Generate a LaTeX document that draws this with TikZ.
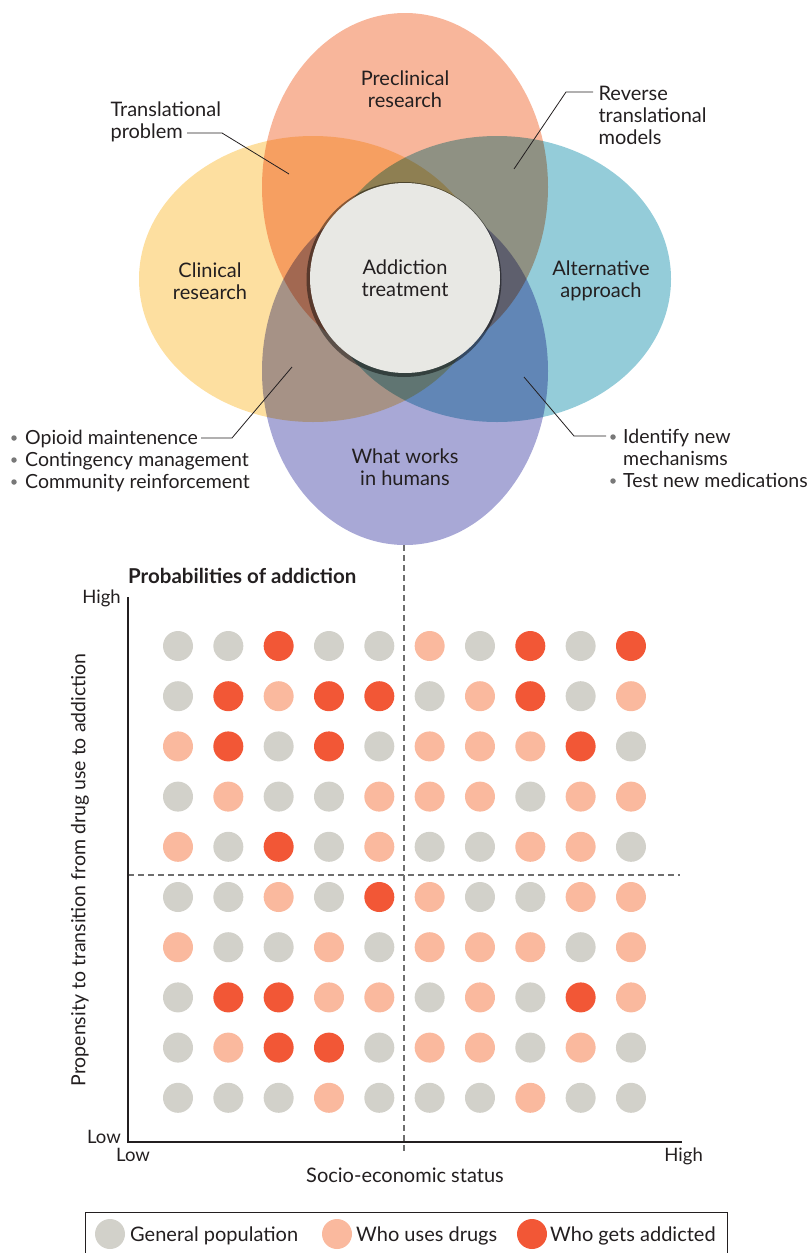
\documentclass[tikz,border=0pt]{standalone}
\usepackage{fontspec}
\setmainfont{Lato}
\usetikzlibrary{positioning}
\definecolor{preclin}{RGB}{248,182,155}
\definecolor{clinyel}{RGB}{253,223,160}
\definecolor{altblue}{RGB}{148,204,217}
\definecolor{humanvio}{RGB}{168,168,214}
\definecolor{coregray}{RGB}{232,232,228}
\definecolor{popgray}{RGB}{210,209,202}
\definecolor{drugpink}{RGB}{250,185,158}
\definecolor{addred}{RGB}{242,87,54}
\definecolor{inkblack}{RGB}{35,31,32}
\definecolor{dashgray}{RGB}{110,110,110}
\definecolor{bulletgray}{RGB}{120,120,120}

\tikzset{
  venntxt/.style={align=center,font=\fontsize{20}{22}\selectfont,text=inkblack},
  sidetxt/.style={anchor=base west,font=\fontsize{19.5}{22}\selectfont,text=inkblack,inner sep=0pt},
  leader/.style={draw=inkblack,line width=0.8pt},
  bullet/.style={circle,fill=bulletgray,inner sep=0pt,minimum size=5.5pt},
  dot/.style={circle,inner sep=0pt,minimum size=30pt},
  dotg/.style={fill=popgray},
  dotp/.style={fill=drugpink},
  dotr/.style={fill=addred},
  axistxt/.style={font=\fontsize{18.5}{20}\selectfont,text=inkblack,inner sep=0pt},
  legtxt/.style={sidetxt,font=\fontsize{20}{22}\selectfont},
  quadline/.style={dashed,dash pattern=on 6pt off 4pt,draw=dashgray,line width=1.2pt}
}

\begin{document}
\begin{tikzpicture}[x=1pt,y=-1pt]
  \useasboundingbox (0,0) rectangle (810,1253);

  % four overlapping fields
  \begin{scope}[blend group=multiply]
    \fill[preclin] (405,187) ellipse [x radius=143, y radius=174];
    \fill[clinyel] (313,279) ellipse [x radius=174, y radius=143];
    \fill[altblue] (497,279) ellipse [x radius=174, y radius=143];
    \fill[humanvio] (405,371) ellipse [x radius=143, y radius=174];
  \end{scope}
  \fill[black,opacity=0.45] (404,279.5) circle [radius=97.5];
  \node[circle,fill=coregray,inner sep=0pt,minimum size=190pt,venntxt] (core) at (405,278) {Addiction\\treatment};

  \node[venntxt] (precl) at (405,89) {Preclinical\\research};
  \node[venntxt] (clin) at (210,281) {Clinical\\research};
  \node[venntxt] (alt) at (601,281) {Alternative\\approach};
  \node[venntxt] (human) at (405,467) {What works\\in humans};

  % callouts
  \node[venntxt,align=left,anchor=west] (transl) at (107,122) {Translational\\problem};
  \node[venntxt,align=left,anchor=west] (revtr) at (595,115) {Reverse\\translational\\models};
  \coordinate (tpa) at (187,133);
  \coordinate (tpb) at (289,174);
  \draw[leader] (tpa) -- ++(35,0) -- (tpb);
  \coordinate (rta) at (593,92);
  \coordinate (rtb) at (514,169);
  \draw[leader] (rta) -- ++(-27,0) -- (rtb);

  \node[sidetxt] (om1) at (25,444) {Opioid maintenence};
  \node[sidetxt] (om2) at (25,466) {Contingency management};
  \node[sidetxt] (om3) at (25,488) {Community reinforcement};
  \node[bullet] (b1) at (14,438) {};
  \node[bullet] (b2) at (14,460) {};
  \node[bullet] (b3) at (14,482) {};
  \coordinate (oma) at (201,438);
  \coordinate (omb) at (292,367);
  \draw[leader] (oma) -- ++(31,0) -- (omb);

  \node[sidetxt] (nm1) at (623,443) {Identify new};
  \node[sidetxt] (nm2) at (623,465) {mechanisms};
  \node[sidetxt] (nm3) at (623,487) {Test new medications};
  \node[bullet] (b4) at (613,437) {};
  \node[bullet] (b5) at (613,481) {};
  \coordinate (nma) at (606,436);
  \coordinate (nmb) at (524,377);
  \draw[leader] (nma) -- ++(-32,0) -- (nmb);

  % probability plot
  \coordinate (vtop) at (404,545);
  \coordinate (vbot) at (404,1152);
  \coordinate (hleft) at (128,875);
  \coordinate (hright) at (680,875);
  \draw[quadline] (vtop) -- (vbot);
  \draw[quadline] (hleft) -- (hright);

  \coordinate (ytop) at (128,597);
  \coordinate (orig) at (128,1142);
  \coordinate (xend) at (682,1142);
  \draw[line width=1.2pt,inkblack] (ytop) -- (orig) -- (xend);

  \node[font=\bfseries\fontsize{20.5}{22}\selectfont,text=inkblack,anchor=base west,inner sep=0pt] (title) at (128,583) {Probabilities of addiction};
  \node[axistxt,anchor=base east] (yhigh) at (121,603) {High};
  \node[axistxt,anchor=base east] (ylow) at (121,1143) {Low};
  \node[axistxt,anchor=base west] (xlow) at (116,1161) {Low};
  \node[axistxt,anchor=base east] (xhigh) at (703,1161) {High};
  \node[axistxt,font=\fontsize{20}{22}\selectfont] (xlab) at (405,1175) {Socio-economic status};
  \node[axistxt,font=\fontsize{19.5}{22}\selectfont,rotate=90] (ylab) at (80,870) {Propensity to transition from drug use to addiction};

  \foreach \row [count=\j] in {
      {g,g,r,g,g,p,g,r,g,r},
      {g,r,p,r,r,g,p,r,g,p},
      {p,r,g,r,g,p,p,p,r,g},
      {g,p,g,g,p,p,p,g,p,p},
      {p,g,r,g,p,g,g,p,p,g},
      {g,g,p,g,r,p,g,g,p,p},
      {p,g,g,p,g,p,p,p,g,p},
      {g,r,r,p,p,g,p,g,r,p},
      {g,p,r,r,g,p,p,g,p,g},
      {g,g,g,p,g,g,g,p,g,g}}{
    \foreach \c [count=\i] in \row {
      \node[dot,dot\c] (d\j-\i) at ({178+50.33*(\i-1)},{646+50.2*(\j-1)}) {};
    }
  }

  % legend
  \draw[draw=inkblack,line width=0.8pt] (85,1212) rectangle (727,1262);
  \node[dot,dotg] (lg) at (110,1234) {};
  \node[legtxt] (lgt) at (130,1241) {General population};
  \node[dot,dotp] (lp) at (337,1234) {};
  \node[legtxt] (lpt) at (356,1241) {Who uses drugs};
  \node[dot,dotr] (lr) at (532,1234) {};
  \node[legtxt] (lrt) at (550,1241) {Who gets addicted};
\end{tikzpicture}
\end{document}
